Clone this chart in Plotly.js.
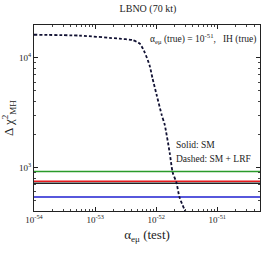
<!DOCTYPE html>
<html><head><meta charset="utf-8">
<script src="https://cdn.plot.ly/plotly-3.0.1.min.js"></script>
<style>body{margin:0;background:#fff}#c{width:274px;height:257px}</style>
</head><body><div id="c"></div>
<script>
// Dashed curve: SM + LRF (alpha_emu test vs Delta chi^2)
const alphaTest = [1e-54, 5.6e-54, 2.5e-53, 4.1e-53, 5.4e-53, 6.5e-53, 7.8e-53, 8.7e-53, 1.02e-52, 1.23e-52, 1.38e-52, 1.66e-52, 1.86e-52, 2.14e-52, 2.4e-52, 2.88e-52, 3.16e-52];
const chi2Dashed = [16300, 16000, 15000, 14550, 13500, 11200, 8550, 6520, 4570, 3020, 2450, 1370, 900, 731, 536, 417, 376];
// Solid horizontal lines: SM
const xRange = [1e-54, 5e-51];
const solidNames = ['green', 'red', 'black', 'blue'];
const solidValues = [920, 747, 716, 536];
const solidColors = ['#2a9a2a', '#e8191c', '#222222', '#1f1fd0'];
const xTickVals = [1e-54, 1e-53, 1e-52, 1e-51];
const xTickText = ['10<sup>-54</sup>', '10<sup>-53</sup>', '10<sup>-52</sup>', '10<sup>-51</sup>'];
const yTickVals = [1e3, 1e4];
const yTickText = ['10<sup>3</sup>', '10<sup>4</sup>'];

const traces = [];
solidValues.forEach((v, i) => {
  traces.push({x: xRange, y: [v, v], mode: 'lines', name: solidNames[i],
    line: {color: solidColors[i], width: 1.5}, showlegend: false, hoverinfo: 'skip'});
});
traces.push({x: alphaTest, y: chi2Dashed, mode: 'lines',
  line: {color: '#111133', width: 1.8, dash: '3px,2px', shape: 'spline', smoothing: 0.6},
  showlegend: false});

const font = {family: 'Liberation Serif, Times New Roman, serif', color: '#222'};
const layout = {
  width: 274, height: 257,
  margin: {l: 34, r: 14, t: 25, b: 46},
  paper_bgcolor: '#fff', plot_bgcolor: '#fff',
  font: Object.assign({size: 9}, font),
  title: {text: 'LBNO (70 kt)', font: Object.assign({size: 10}, font), x: 0.54, xanchor: 'center', y: 0.965, yanchor: 'middle'},
  xaxis: {type: 'log', range: [-54, Math.log10(5e-51)], showgrid: false, zeroline: false,
    showline: true, linecolor: '#222', linewidth: 1, mirror: 'allticks',
    ticks: 'inside', ticklen: 4, tickcolor: '#222',
    tickvals: xTickVals, ticktext: xTickText, tickfont: Object.assign({size: 9}, font),
    minor: {ticks: 'inside', ticklen: 2, tickcolor: '#444', dtick: 'D1', showgrid: false},
    title: {text: 'α<sub>eμ</sub> (test)', font: Object.assign({size: 13}, font), standoff: 6}},
  yaxis: {type: 'log', range: [Math.log10(400), Math.log10(20000)], showgrid: false, zeroline: false,
    showline: true, linecolor: '#222', linewidth: 1, mirror: 'allticks',
    ticks: 'inside', ticklen: 4, tickcolor: '#222',
    tickvals: yTickVals, ticktext: yTickText, tickfont: Object.assign({size: 9}, font),
    minor: {ticks: 'inside', ticklen: 2, tickcolor: '#444', dtick: 'D1', showgrid: false},
    title: {text: 'Δ χ<sup>2</sup><sub>MH</sub>', font: Object.assign({size: 13}, font), standoff: 4}},
  annotations: [
    {text: 'α<sub>eμ</sub> (true) = 10<sup>-51</sup>,   IH (true)', xref: 'paper', yref: 'paper',
      x: 0.99, y: 0.925, xanchor: 'right', yanchor: 'middle', showarrow: false, font: Object.assign({size: 9.5}, font)},
    {text: 'Solid: SM', xref: 'paper', yref: 'paper', x: 0.62, y: 0.355, xanchor: 'left', yanchor: 'middle',
      showarrow: false, font: Object.assign({size: 9.5}, font)},
    {text: 'Dashed: SM + LRF', xref: 'paper', yref: 'paper', x: 0.62, y: 0.28, xanchor: 'left', yanchor: 'middle',
      showarrow: false, font: Object.assign({size: 9.5}, font)}
  ]
};
Plotly.newPlot('c', traces, layout, {displayModeBar: false, staticPlot: true});
</script></body></html>
